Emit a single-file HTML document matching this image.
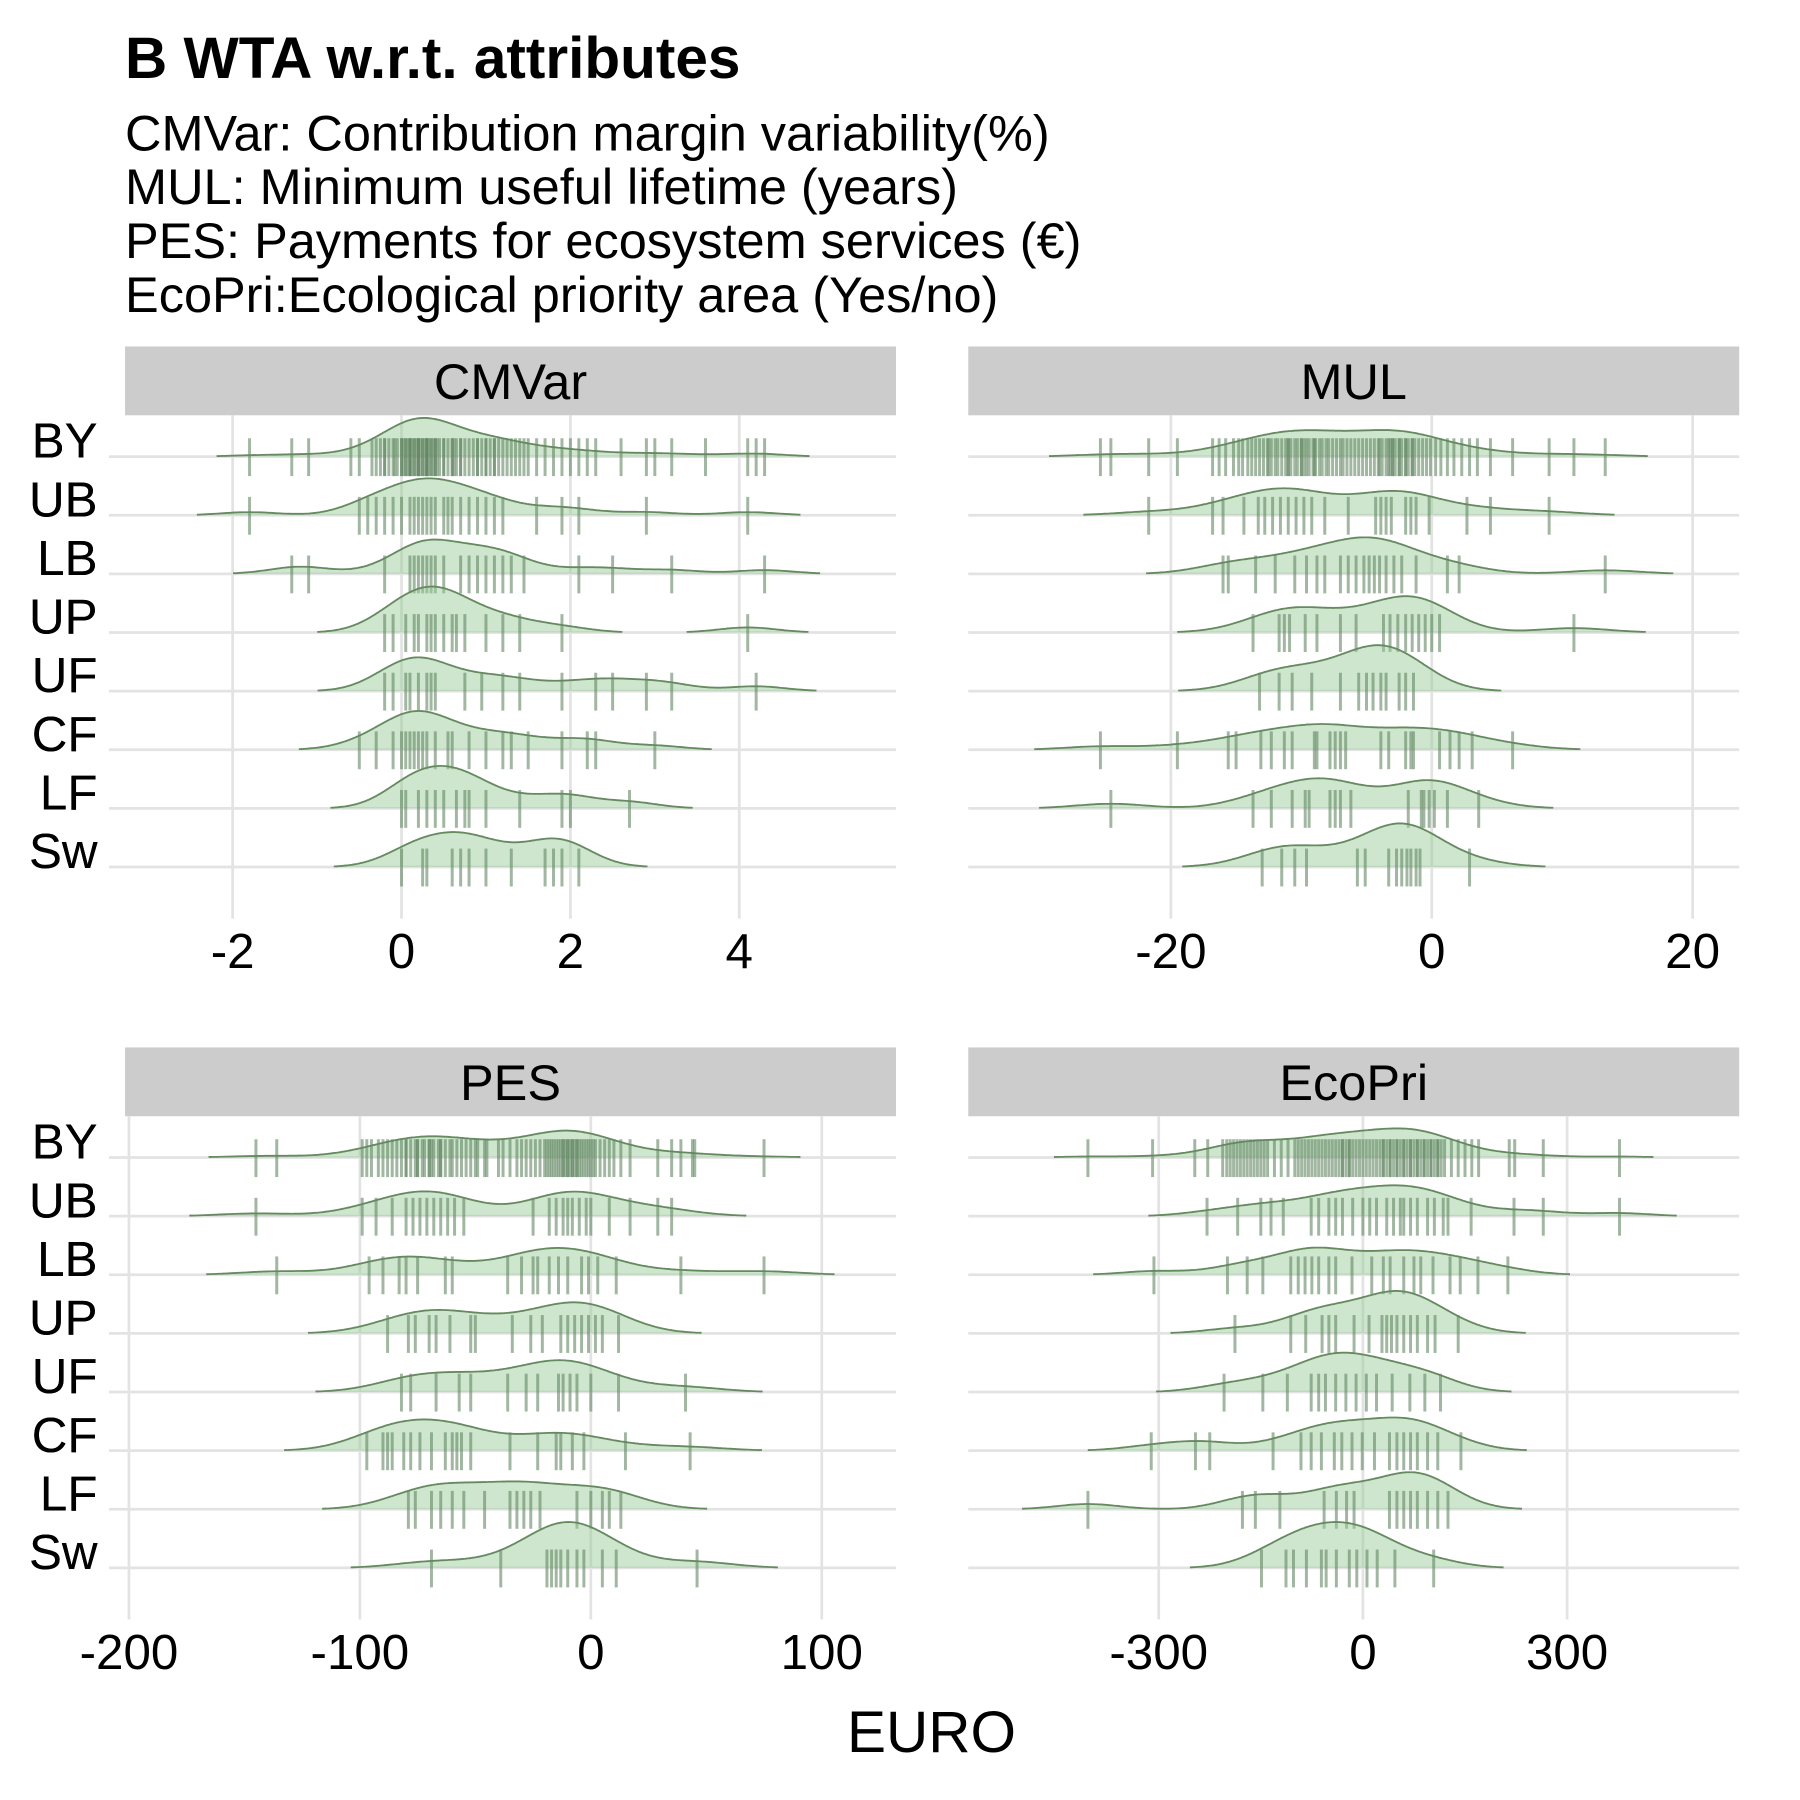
<!DOCTYPE html>
<html><head><meta charset="utf-8"><style>
html,body{margin:0;padding:0;background:#fff;}
svg{display:block;font-family:"Liberation Sans",Arial,sans-serif;}
</style></head><body>
<svg id="chart" width="1800" height="1800" viewBox="0 0 1569 1569" xmlns="http://www.w3.org/2000/svg">
<text x="109" y="68" font-size="51" font-weight="bold">B WTA w.r.t. attributes</text>
<g font-size="44">
<text x="109" y="131">CMVar: Contribution margin variability(%)</text>
<text x="109" y="178">MUL: Minimum useful lifetime (years)</text>
<text x="109" y="225">PES: Payments for ecosystem services (€)</text>
<text x="109" y="272">EcoPri:Ecological priority area (Yes/no)</text>
</g>
<text x="812" y="1527" font-size="51" text-anchor="middle">EURO</text>
<g id="panels"></g>
</svg>
<script>
const rowNames = ["BY","UB","LB","UP","UF","CF","LF","Sw"];
const cmvarTicks = [-2,0,2,4];
const mulTicks = [-20,0,20];
const pesTicks = [-200,-100,0,100];
const ecoTicks = [-300,0,300];

const cmvarValues = [
 [-1.8,-1.3,-1.1,-0.6,-0.5,-0.35,-0.3,-0.25,-0.2,-0.15,-0.1,-0.08,-0.05,0,0.02,0.05,0.08,0.1,0.12,0.15,0.18,0.2,0.22,0.25,0.28,0.3,0.3,0.32,0.35,0.38,0.4,0.42,0.45,0.5,0.5,0.55,0.6,0.62,0.65,0.7,0.75,0.8,0.85,0.9,0.95,1.0,1.0,1.05,1.1,1.15,1.2,1.25,1.3,1.35,1.4,1.45,1.5,1.6,1.7,1.8,1.9,2.0,2.1,2.2,2.3,2.6,2.9,3.0,3.2,3.6,4.1,4.2,4.3,0.0,0.05,0.1,0.15,0.2,0.25,0.3,0.35,0.4,0.1,0.2,0.3,-0.2,0.6,0.7,0.9,1.1],
 [-1.8,-0.5,-0.4,-0.3,-0.2,-0.1,0,0.1,0.15,0.2,0.25,0.3,0.35,0.4,0.5,0.55,0.6,0.7,0.8,0.9,1.0,1.1,1.2,1.6,1.9,2.1,2.9,4.1],
 [-1.3,-1.1,-0.2,0.1,0.15,0.2,0.25,0.3,0.35,0.4,0.5,0.7,0.8,0.9,1.0,1.1,1.2,1.3,1.45,2.1,2.5,3.2,4.3],
 [-0.2,-0.1,0.05,0.15,0.2,0.3,0.35,0.4,0.5,0.6,0.65,0.75,1.0,1.2,1.4,1.9,4.1],
 [-0.2,-0.1,0.05,0.1,0.2,0.3,0.35,0.4,0.75,0.95,1.2,1.4,1.9,2.3,2.5,2.9,3.2,4.2],
 [-0.5,-0.3,-0.1,0,0.05,0.1,0.15,0.2,0.25,0.3,0.4,0.55,0.6,0.8,1.0,1.2,1.3,1.5,1.9,2.2,2.3,3.0],
 [0,0.05,0.2,0.3,0.4,0.5,0.65,0.75,0.8,1.0,1.4,1.9,2.0,2.7],
 [0,0.25,0.3,0.6,0.7,0.8,1.0,1.3,1.7,1.8,1.9,2.1]
];
const mulValues = [
 [-25.4,-24.6,-21.7,-19.5,-16.8,-16.3,-15.8,-15.2,-14.8,-14.5,-14.1,-13.8,-13.5,-13.2,-12.9,-12.6,-12.3,-12.0,-11.8,-11.5,-11.2,-11.0,-10.8,-10.5,-10.3,-10.0,-9.8,-9.6,-9.4,-9.1,-8.9,-8.6,-8.4,-8.1,-7.9,-7.6,-7.3,-7.0,-6.8,-6.5,-6.2,-5.9,-5.6,-5.3,-5.0,-4.7,-4.4,-4.1,-3.8,-3.5,-3.3,-3.0,-2.8,-2.5,-2.3,-2.0,-1.8,-1.5,-1.3,-1.0,-0.7,-0.4,-0.1,0.3,0.7,1.2,1.7,2.3,2.9,3.5,4.5,6.2,9.0,10.9,13.3,-12.5,-11,-10,-9,-4,-3,-2.5,-2,-1.5,-3.2],
 [-21.7,-16.8,-16.0,-14.4,-13.3,-12.8,-12.2,-11.6,-11.0,-10.4,-9.8,-9.2,-8.2,-6.4,-4.3,-3.9,-3.5,-3.1,-2.0,-1.6,-1.2,-0.2,2.7,4.5,9.0],
 [-16.0,-15.6,-13.5,-12.0,-10.5,-9.6,-8.8,-8.2,-7.0,-6.4,-5.8,-5.2,-4.8,-4.4,-4.0,-3.5,-2.9,-2.3,-1.2,1.2,2.1,13.3],
 [-13.7,-11.7,-11.3,-10.9,-9.7,-8.8,-7.0,-5.8,-3.7,-3.2,-2.6,-2.0,-1.5,-1.0,-0.5,0,0.6,10.9],
 [-13.2,-11.7,-10.7,-9.2,-7.0,-5.6,-5.0,-4.5,-3.9,-3.5,-2.5,-2.0,-1.4],
 [-25.4,-19.5,-15.6,-15.0,-13.1,-12.3,-11.3,-10.7,-9.0,-8.8,-7.8,-7.4,-7.0,-6.6,-3.9,-3.3,-2.0,-1.6,-1.4,0.6,1.4,2.1,3.1,6.2],
 [-24.6,-13.7,-12.3,-10.7,-9.7,-9.4,-7.8,-7.4,-7.0,-6.2,-1.8,-0.8,-0.6,-0.2,0.2,1.2,3.6],
 [-13.0,-11.5,-10.5,-9.6,-5.7,-5.1,-3.3,-2.7,-2.3,-1.9,-1.6,-1.2,-0.9,2.9]
];
const pesValues = [
 [-145,-136,-99,-97,-95,-92,-90,-88,-86,-84,-82,-80,-78,-76,-75,-73,-72,-70,-69,-68,-66,-65,-63,-61,-60,-58,-56,-54,-52,-50,-49,-46,-45,-40,-38,-35,-32,-30,-28,-26,-24,-22,-20,-19,-18,-17,-16,-15,-14,-13,-12,-11,-10,-9,-8,-7,-6,-5,-4,-3,-2,-1,0,1,2,4,6,8,10,13,17,29,35,39,44,45,75,-12,-10,-8,-6,-70,-75,-80,-65],
 [-145,-99,-93,-86,-80,-77,-74,-71,-68,-65,-62,-59,-55,-25,-18,-15,-12,-10,-8,-5,-2,0,8,17,29,35],
 [-136,-96,-90,-83,-80,-75,-63,-60,-36,-30,-25,-23,-18,-14,-10,-4,-1,3,11,39,75],
 [-88,-79,-76,-70,-67,-61,-52,-50,-34,-26,-21,-13,-10,-7,-4,-1,2,5,12],
 [-82,-78,-67,-57,-52,-36,-28,-23,-14,-12,-9,-6,0,12,41],
 [-97,-90,-88,-86,-81,-78,-74,-69,-63,-60,-58,-56,-52,-35,-23,-15,-13,-8,-3,15,43],
 [-79,-76,-69,-65,-60,-55,-46,-35,-32,-29,-26,-22,-6,0,5,8,13],
 [-69,-39,-19,-17,-15,-13,-10,-6,-3,5,11,46]
];
const ecoValues = [
 [-404,-309,-247,-228,-206,-200,-195,-190,-185,-180,-175,-170,-165,-160,-155,-150,-145,-140,-130,-120,-110,-100,-95,-90,-85,-80,-75,-70,-65,-60,-55,-50,-45,-40,-35,-30,-25,-20,-15,-10,-5,0,5,10,15,20,25,30,35,40,45,50,55,60,65,70,75,80,85,90,95,100,105,110,115,120,130,140,150,160,170,215,223,265,377,60,70,80,50,40,30,-20,-30,90,100,110],
 [-229,-184,-150,-135,-117,-76,-65,-50,-40,-30,-15,0,10,20,35,45,55,60,70,80,95,105,118,125,159,222,265,377],
 [-307,-199,-170,-147,-106,-95,-85,-75,-65,-50,-40,-16,13,30,40,60,75,85,103,128,143,169,213],
 [-188,-106,-84,-60,-50,-40,-13,9,28,35,42,50,60,70,80,95,106,140],
 [-204,-147,-111,-76,-65,-55,-40,-25,-10,5,20,43,69,91,114],
 [-311,-246,-225,-132,-91,-76,-61,-42,-31,-16,-1,17,39,50,60,70,80,95,110,144],
 [-404,-177,-158,-122,-57,-39,-24,-13,39,50,60,70,80,95,110,125],
 [-149,-113,-102,-83,-61,-54,-39,-20,-9,6,21,47,104]
];

const panels = [
 {name:"cmvar", label:"CMVar", x0:109, x1:781, top:302, zero:350, ppu:73.6, ticks:cmvarTicks, values:cmvarValues, left:true},
 {name:"mul", label:"MUL", x0:844, x1:1516, top:302, zero:1248, ppu:11.37, ticks:mulTicks, values:mulValues, left:false},
 {name:"pes", label:"PES", x0:109, x1:781, top:913, zero:515, ppu:2.013, ticks:pesTicks, values:pesValues, left:true},
 {name:"ecopri", label:"EcoPri", x0:844, x1:1516, top:913, zero:1188, ppu:0.5933, ticks:ecoTicks, values:ecoValues, left:false}
];

const NS = "http://www.w3.org/2000/svg";
const root = document.getElementById("panels");
function mk(tag, attrs, parent){const e=document.createElementNS(NS,tag);for(const k in attrs)e.setAttribute(k,attrs[k]);parent.appendChild(e);return e;}

function bwNrd0(arr){
  const n=arr.length; const m=arr.reduce((a,b)=>a+b,0)/n;
  const sd=Math.sqrt(arr.reduce((a,b)=>a+(b-m)*(b-m),0)/(n-1));
  const s=[...arr].sort((a,b)=>a-b);
  const q=p=>{const h=(n-1)*p,l=Math.floor(h);return s[l]+(h-l)*((s[Math.min(l+1,n-1)])-s[l]);};
  const iqr=(q(0.75)-q(0.25))/1.34;
  return 0.9*Math.min(sd,iqr>0?iqr:sd)*Math.pow(n,-0.2);
}

panels.forEach(p=>{
  const g = mk("g",{},root);
  
  
  const xs = v => p.zero + v*p.ppu;
  const stripBottom = p.top+60;
  const rowY = i => stripBottom + 36 + i*51.1;
  const panelBottom = rowY(7) + 45;
  const strip = mk("rect",{x:p.x0,y:p.top,width:p.x1-p.x0,height:60,fill:"#cccccc"},g);
  
  
  const st = mk("text",{x:(p.x0+p.x1)/2,y:p.top+46,"font-size":44,"text-anchor":"middle"},g);
  st.textContent=p.label;
  
  
  p.ticks.forEach(t=>{
    const gl = mk("line",{x1:xs(t),x2:xs(t),y1:stripBottom,y2:panelBottom,stroke:"#e3e3e3","stroke-width":2.4},g);
    
    
    const tl = mk("text",{x:xs(t),y:panelBottom+43,"font-size":43,"text-anchor":"middle"},g);
    tl.textContent=String(t);
    
    
  });
  rowNames.forEach((r,i)=>{
    const hl = mk("line",{x1:p.left?p.x0-14:p.x0,x2:p.x1,y1:rowY(i),y2:rowY(i),stroke:"#e3e3e3","stroke-width":2.4},g);
    
    
    const lb = mk("text",{x:85,y:rowY(i)+1,"font-size":43,"text-anchor":"end"},g);
    lb.textContent=r;
    
    
  });
  const all = p.values.flat();
  const bw = bwNrd0(all)*1.3;
  const dens = p.values.map(vals=>{
    const mn=Math.min(...vals)-3*bw, mx=Math.max(...vals)+3*bw, N=400, pts=[];
    for(let k=0;k<=N;k++){const x=mn+(mx-mn)*k/N;let d=0;for(const v of vals){const z=(x-v)/bw;d+=Math.exp(-0.5*z*z);}d/=vals.length*bw*Math.sqrt(2*Math.PI);pts.push([x,d]);}
    return pts;
  });
  const maxD = Math.max(...dens.map(a=>Math.max(...a.map(q=>q[1]))));
  const H = 40/maxD;
  dens.forEach((pts,i)=>{
    const y0=rowY(i);
    const rg = mk("g",{},g);
    
    
    const thr = 0.45;
    let segs=[],cur=[];
    pts.forEach(q=>{const h=q[1]*H; if(h>=thr){cur.push([xs(q[0]),y0-h]);} else if(cur.length){segs.push(cur);cur=[];}});
    if(cur.length)segs.push(cur);
    segs.forEach(s=>{
      const line = s.map((q,k)=>(k?"L":"M")+q[0].toFixed(1)+" "+q[1].toFixed(1)).join("");
      const area = "M"+s[0][0].toFixed(1)+" "+y0+line.replace(/^M/,"L")+"L"+s[s.length-1][0].toFixed(1)+" "+y0+"Z";
      const a = mk("path",{d:area,fill:"rgb(150,202,150)","fill-opacity":0.48,stroke:"none"},rg);
      
      
      const l = mk("path",{d:line,fill:"none",stroke:"#668a60","stroke-width":1.6},rg);
      
      
    });
    p.values[i].forEach(v=>{
      const t = mk("line",{x1:xs(v),x2:xs(v),y1:y0-16,y2:y0+17,stroke:"rgb(100,135,100)","stroke-opacity":0.6,"stroke-width":2.6},rg);
      
      
    });
  });
});
</script>
</body></html>
